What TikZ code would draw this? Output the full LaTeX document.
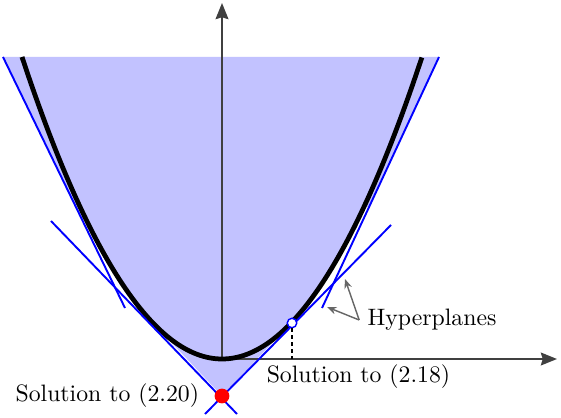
\documentclass[tikz,border=0pt]{standalone}
\usepackage{amsmath,amssymb}
\usepackage{xcolor}
\usepackage{tikz}
\usetikzlibrary{arrows.meta, positioning, calc}
\tikzstyle{axis} = [draw=black!75, line width=0.85pt, -{Stealth[length=6.8pt,width=5.4pt,inset=0.8pt]}]
\tikzstyle{plane} = [draw=blue, line width=0.8pt]
\tikzstyle{curve} = [draw=black, line width=2pt]
\tikzstyle{pointer} = [draw=black!60, line width=0.6pt, -{Stealth[length=4pt,width=3.2pt]}]
\tikzstyle{hull} = [fill=blue!24]

\begin{document}
\begin{tikzpicture}[x=1.48cm, y=1.48cm]
  \useasboundingbox (-2.22,-0.58) rectangle (3.39,3.59);
  \coordinate (O) at (0,0);
  % region and its outer approximation
  \fill[hull] (-2.19,3.02) -- (-1.40,1.40) -- plot[domain=-1.36:-0.7, samples=30] (\x,{0.755*\x*\x})
    -- (0,-0.37) -- plot[domain=0.7:1.42, samples=30] (\x,{0.755*\x*\x}) -- (1.47,1.52) -- (2.17,3.02) -- cycle;
  \draw[axis] (O) -- (0,3.56);
  \draw[axis] (O) -- (3.35,0);
  \draw[curve] plot[domain=-2:2, samples=120] (\x,{0.755*\x*\x});
  % hyperplanes
  \coordinate (ls1) at (-2.19,3.02);
  \coordinate (ls2) at (-0.97,0.51);
  \coordinate (rs1) at (2.17,3.02);
  \coordinate (rs2) at (1.00,0.51);
  \coordinate (lf1) at (-1.71,1.38);
  \coordinate (lf2) at (0.15,-0.55);
  \coordinate (rf1) at (1.69,1.34);
  \coordinate (rf2) at (-0.17,-0.55);
  \draw[plane] (ls1) -- (ls2);
  \draw[plane] (rs1) -- (rs2);
  \draw[plane] (lf1) -- (lf2);
  \draw[plane] (rf1) -- (rf2);
  % solutions
  \node (sol18) [circle, draw=blue, fill=white, line width=0.6pt, inner sep=0pt, minimum size=4pt] at (0.7,0.36) {};
  \draw[black, line width=0.8pt, dash pattern=on 1.6pt off 1.3pt] (sol18.south) -- (sol18 |- O);
  \node (sol20) [circle, fill=red, inner sep=0pt, minimum size=6.2pt] at (0,-0.37) {};
  \node (lab18) at (1.365,-0.18) {Solution to (2.18)};
  \node (lab20) [left=0.1cm of sol20] {Solution to (2.20)};
  \node (hyp) at (2.10,0.39) {Hyperplanes};
  \coordinate (hp1) at (1.23,0.80);
  \coordinate (hp2) at (1.05,0.52);
  \draw[pointer] (hyp.west) -- (hp1);
  \draw[pointer] (hyp.west) -- (hp2);
\end{tikzpicture}
\end{document}
